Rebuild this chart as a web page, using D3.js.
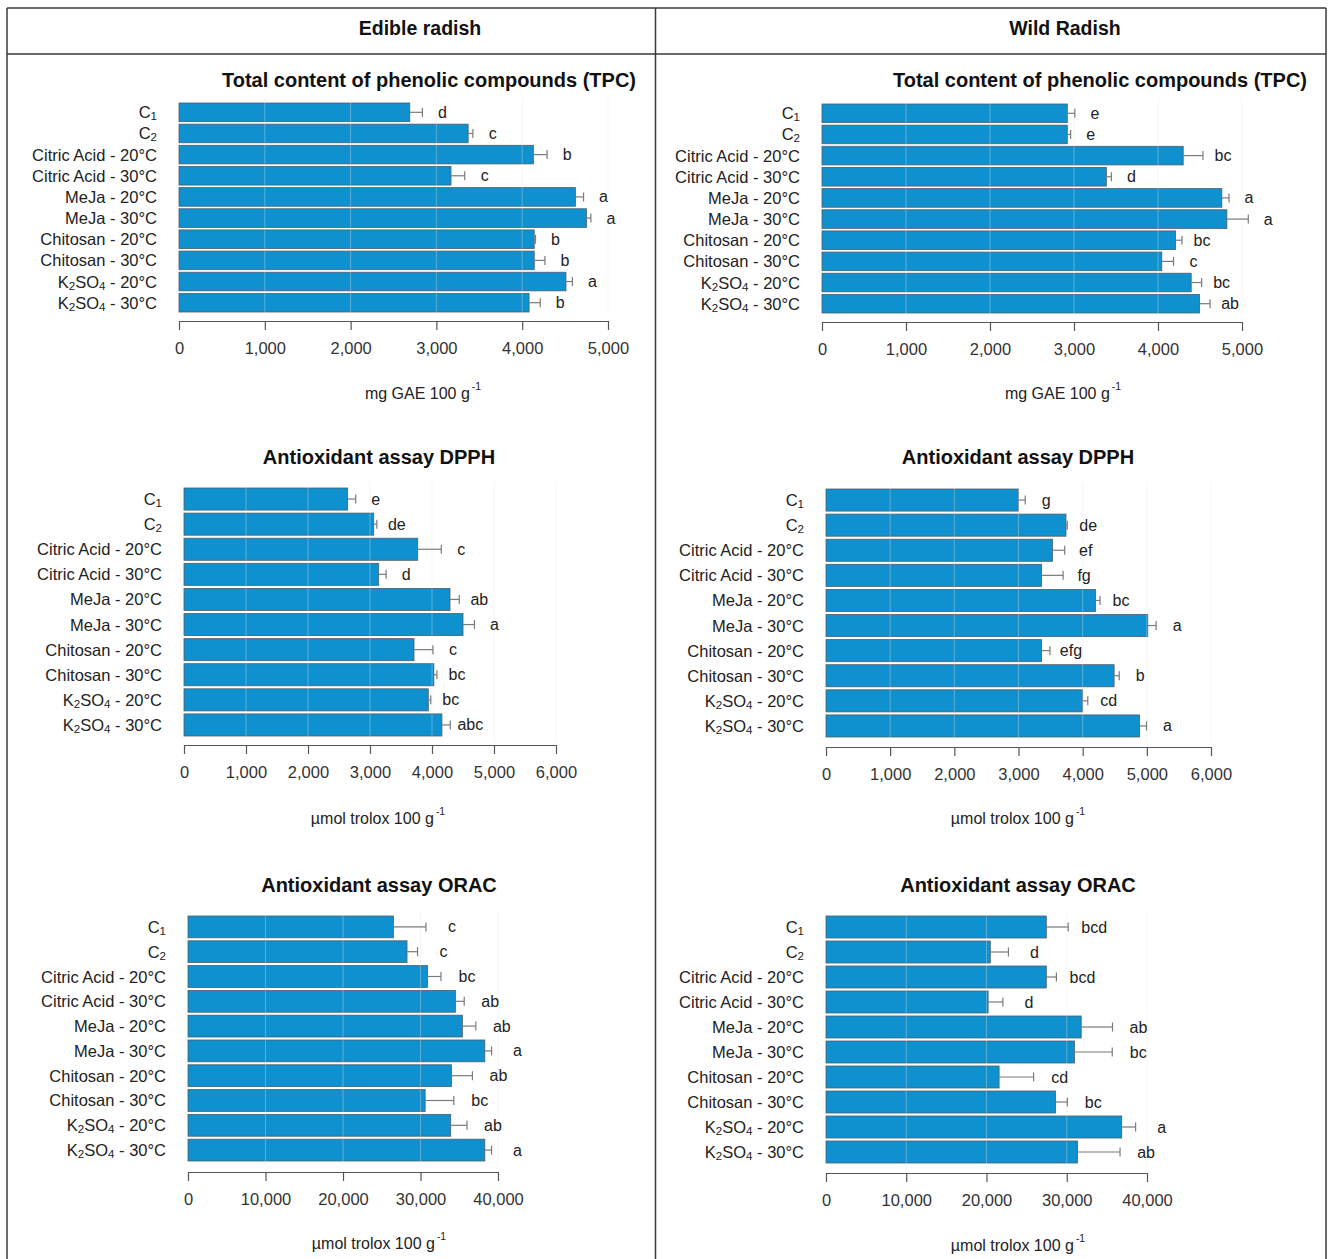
<!DOCTYPE html>
<html>
<head>
<meta charset="utf-8">
<script src="https://cdn.jsdelivr.net/npm/d3@7"></script>
<style>
  html, body { margin: 0; padding: 0; background: #fff; }
  svg { display: block; font-family: "Liberation Sans", Arial, sans-serif; }
</style>
</head>
<body>
<svg id="chart" width="1329" height="1259"></svg>
<script>
// ---------------- DATA ----------------
const columnTitles = ["Edible radish", "Wild Radish"];
const categories = ["C1", "C2", "Citric Acid - 20°C", "Citric Acid - 30°C", "MeJa - 20°C", "MeJa - 30°C",
  "Chitosan - 20°C", "Chitosan - 30°C", "K2SO4 - 20°C", "K2SO4 - 30°C"];

const chartTitles = ["Total content of phenolic compounds (TPC)", "Antioxidant assay DPPH", "Antioxidant assay ORAC"];
const unitLabels = ["mg GAE 100 g", "µmol trolox 100 g", "µmol trolox 100 g"];

const ticksTPC = [0, 1000, 2000, 3000, 4000, 5000];
const ticksDPPH = [0, 1000, 2000, 3000, 4000, 5000, 6000];
const ticksORAC = [0, 10000, 20000, 30000, 40000];

// Edible radish
const edibleTPC = [2690, 3370, 4130, 3170, 4620, 4750, 4140, 4140, 4510, 4080];
const edibleTPCErr = [147, 55, 160, 160, 95, 50, 15, 125, 75, 130];
const edibleTPCLetters = ["d", "c", "b", "c", "a", "a", "b", "b", "a", "b"];

const edibleDPPH = [2640, 3060, 3770, 3140, 4290, 4500, 3710, 4030, 3940, 4160];
const edibleDPPHErr = [130, 50, 380, 120, 150, 185, 305, 50, 40, 135];
const edibleDPPHLetters = ["e", "de", "c", "d", "ab", "a", "c", "bc", "bc", "abc"];

const edibleORAC = [26500, 28260, 30900, 34500, 35400, 38300, 34000, 30600, 33900, 38300];
const edibleORACErr = [4200, 1360, 1740, 1140, 1740, 870, 2700, 3700, 2100, 870];
const edibleORACLetters = ["c", "c", "bc", "ab", "ab", "a", "ab", "bc", "ab", "a"];

// Wild radish
const wildTPC = [2920, 2920, 4300, 3385, 4760, 4820, 4210, 4045, 4395, 4495];
const wildTPCErr = [90, 40, 235, 60, 85, 255, 75, 140, 125, 125];
const wildTPCLetters = ["e", "e", "bc", "d", "a", "a", "bc", "c", "bc", "ab"];

const wildDPPH = [3000, 3740, 3530, 3360, 4200, 5015, 3360, 4490, 4000, 4885];
const wildDPPHErr = [105, 20, 190, 335, 70, 130, 130, 80, 80, 110];
const wildDPPHLetters = ["g", "de", "ef", "fg", "bc", "a", "efg", "b", "cd", "a"];

const wildORAC = [27450, 20470, 27450, 20200, 31800, 30970, 21570, 28600, 36850, 31340];
const wildORACErr = [2730, 2260, 1260, 1840, 3900, 4700, 4300, 1470, 1730, 5300];
const wildORACLetters = ["bcd", "d", "bcd", "d", "ab", "bc", "cd", "bc", "a", "ab"];

// ---------------- LAYOUT ----------------
const panels = [
  { values: edibleTPC, errs: edibleTPCErr, letters: edibleTPCLetters, title: chartTitles[0], unit: unitLabels[0], ticks: ticksTPC,
    x0: 179, x1: 608, top: 103, bottom: 312, axisY: 321, titleX: 429, titleY: 80, unitX: 423, unitY: 393, letterOff: 20 },
  { values: wildTPC, errs: wildTPCErr, letters: wildTPCLetters, title: chartTitles[0], unit: unitLabels[0], ticks: ticksTPC,
    x0: 822, x1: 1242, top: 104, bottom: 313, axisY: 322, titleX: 1100, titleY: 80, unitX: 1063, unitY: 393, letterOff: 20 },
  { values: edibleDPPH, errs: edibleDPPHErr, letters: edibleDPPHLetters, title: chartTitles[1], unit: unitLabels[1], ticks: ticksDPPH,
    x0: 184, x1: 556, top: 488, bottom: 736, axisY: 745, titleX: 379, titleY: 457, unitX: 378, unitY: 818, letterOff: 20 },
  { values: wildDPPH, errs: wildDPPHErr, letters: wildDPPHLetters, title: chartTitles[1], unit: unitLabels[1], ticks: ticksDPPH,
    x0: 826, x1: 1211, top: 489, bottom: 737, axisY: 747, titleX: 1018, titleY: 457, unitX: 1018, unitY: 818, letterOff: 21 },
  { values: edibleORAC, errs: edibleORACErr, letters: edibleORACLetters, title: chartTitles[2], unit: unitLabels[2], ticks: ticksORAC,
    x0: 188, x1: 498, top: 916, bottom: 1161, axisY: 1172, titleX: 379, titleY: 885, unitX: 379, unitY: 1243, letterOff: 26 },
  { values: wildORAC, errs: wildORACErr, letters: wildORACLetters, title: chartTitles[2], unit: unitLabels[2], ticks: ticksORAC,
    x0: 826, x1: 1147, top: 916, bottom: 1163, axisY: 1173, titleX: 1018, titleY: 885, unitX: 1018, unitY: 1245, letterOff: 26 }
];

const svg = d3.select("#chart");
const BLUE = "#0f91cf";

// --------- frame ---------
const frame = svg.append("g").attr("stroke", "#3a3a3a").attr("stroke-width", 1.5).attr("fill", "none");
frame.append("line").attr("x1", 7).attr("x2", 1326).attr("y1", 8).attr("y2", 8);
frame.append("line").attr("x1", 7).attr("x2", 1326).attr("y1", 54).attr("y2", 54);
frame.append("line").attr("x1", 7).attr("x2", 7).attr("y1", 8).attr("y2", 1259);
frame.append("line").attr("x1", 655.5).attr("x2", 655.5).attr("y1", 8).attr("y2", 1259);
frame.append("line").attr("x1", 1326).attr("x2", 1326).attr("y1", 8).attr("y2", 1259);

svg.selectAll("text.coltitle").data(columnTitles).join("text")
  .attr("class", "coltitle")
  .attr("x", (d, i) => i === 0 ? 420 : 1065)
  .attr("y", 28)
  .attr("text-anchor", "middle")
  .attr("dominant-baseline", "central")
  .attr("font-weight", "bold")
  .attr("font-size", 19.5)
  .attr("fill", "#111")
  .text(d => d);

// --------- label renderer with subscripts ---------
function writeLabel(sel, s) {
  sel.text(null).attr("dy", null).attr("dominant-baseline", "central");
  let parts;
  const m = s.match(/^C(\d)$/);
  if (m) parts = [["C", 0], [m[1], 1]];
  else if (s.startsWith("K2SO4")) parts = [["K", 0], ["2", 1], ["SO", 0], ["4", 1], [s.slice(5), 0]];
  else parts = [[s, 0]];
  let shifted = 0;
  parts.forEach(([t, sub]) => {
    const ts = sel.append("tspan").text(t);
    if (sub) { ts.attr("font-size", "70%").attr("dy", 4 - shifted); shifted = 4; }
    else if (shifted) { ts.attr("dy", -shifted); shifted = 0; }
  });
}

// --------- panels ---------
panels.forEach(p => {
  const g = svg.append("g");
  const maxTick = p.ticks[p.ticks.length - 1];
  const x = d3.scaleLinear().domain([0, maxTick]).range([p.x0, p.x1]);
  const y = d3.scaleBand().domain(categories).range([p.top, p.bottom]).paddingInner(0.12).paddingOuter(0);

  // title
  g.append("text").attr("x", p.titleX).attr("y", p.titleY)
    .attr("text-anchor", "middle").attr("dominant-baseline", "central")
    .attr("font-weight", "bold").attr("font-size", 20).attr("fill", "#111")
    .text(p.title);

  // bars
  g.selectAll("rect.bar").data(p.values).join("rect")
    .attr("class", "bar")
    .attr("x", x(0))
    .attr("y", (d, i) => y(categories[i]))
    .attr("width", d => x(d) - x(0))
    .attr("height", y.bandwidth())
    .attr("fill", BLUE)
    .attr("stroke", "#4d5e6a")
    .attr("stroke-width", 0.8);

  // gridlines (drawn faintly over bars)
  g.selectAll("line.grid").data(p.ticks.slice(1)).join("line")
    .attr("class", "grid")
    .attr("x1", d => x(d)).attr("x2", d => x(d))
    .attr("y1", p.top - 6).attr("y2", p.bottom + 4)
    .attr("stroke", "#e4e4e4").attr("stroke-opacity", 0.35).attr("stroke-width", 1);

  // error bars
  const eg = g.append("g").attr("stroke", "#7a7a7a").attr("stroke-width", 1.2);
  eg.selectAll("line.err").data(p.values).join("line")
    .attr("class", "err")
    .attr("x1", d => x(d)).attr("x2", (d, i) => x(d + p.errs[i]))
    .attr("y1", (d, i) => y(categories[i]) + y.bandwidth() / 2)
    .attr("y2", (d, i) => y(categories[i]) + y.bandwidth() / 2);
  eg.selectAll("line.cap").data(p.values).join("line")
    .attr("class", "cap")
    .attr("x1", (d, i) => x(d + p.errs[i])).attr("x2", (d, i) => x(d + p.errs[i]))
    .attr("y1", (d, i) => y(categories[i]) + y.bandwidth() / 2 - 4.5)
    .attr("y2", (d, i) => y(categories[i]) + y.bandwidth() / 2 + 4.5);

  // letters
  g.selectAll("text.letter").data(p.values).join("text")
    .attr("class", "letter")
    .attr("x", (d, i) => x(d + p.errs[i]) + p.letterOff)
    .attr("y", (d, i) => y(categories[i]) + y.bandwidth() / 2)
    .attr("text-anchor", "middle").attr("dominant-baseline", "central")
    .attr("font-size", 16).attr("fill", "#222")
    .text((d, i) => p.letters[i]);

  // category axis
  const ya = g.append("g").attr("transform", `translate(${p.x0},0)`)
    .call(d3.axisLeft(y).tickSize(0).tickPadding(22));
  ya.select(".domain").remove();
  ya.selectAll(".tick text")
    .attr("font-size", 16.5).attr("fill", "#222")
    .attr("font-family", "'Liberation Sans', Arial, sans-serif")
    .each(function(d) { writeLabel(d3.select(this), d); });

  // value axis
  const xa = g.append("g").attr("transform", `translate(0,${p.axisY})`)
    .call(d3.axisBottom(x).tickValues(p.ticks).tickFormat(d3.format(",")).tickSize(9).tickPadding(12).tickSizeOuter(0));
  xa.select(".domain").attr("stroke", "#555").attr("stroke-width", 1.2);
  xa.selectAll(".tick line").attr("stroke", "#555").attr("stroke-width", 1.2);
  xa.selectAll(".tick text").attr("font-size", 16.5).attr("fill", "#333")
    .attr("font-family", "'Liberation Sans', Arial, sans-serif");

  // unit label
  const ut = g.append("text").attr("x", p.unitX).attr("y", p.unitY)
    .attr("text-anchor", "middle").attr("dominant-baseline", "central")
    .attr("font-size", 16).attr("fill", "#222");
  ut.append("tspan").text(p.unit);
  ut.append("tspan").text("-1").attr("font-size", "65%").attr("dy", -7).attr("dx", 2);
});
</script>
</body>
</html>
